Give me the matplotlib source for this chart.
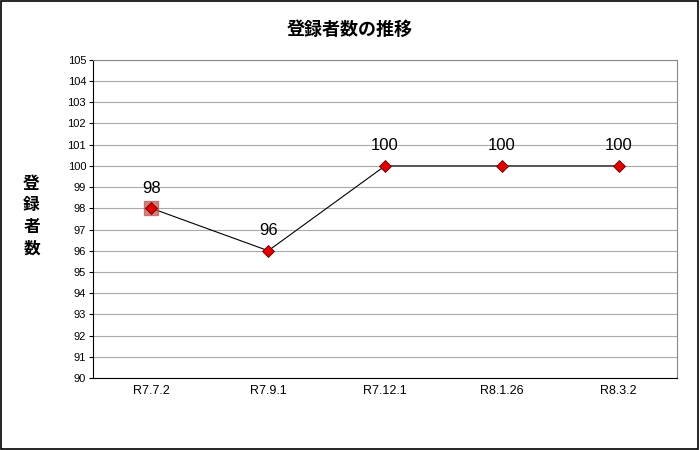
import matplotlib
matplotlib.use("Agg")
import matplotlib.pyplot as plt
from matplotlib.patches import Rectangle

plt.rcParams['font.family'] = ['Noto Sans CJK JP', 'DejaVu Sans']

dates = ["R7.7.2", "R7.9.1", "R7.12.1", "R8.1.26", "R8.3.2"]
counts = [98, 96, 100, 100, 100]
yticks = list(range(90, 106))

fig = plt.figure(figsize=(7, 4.5), dpi=100)
ax = fig.add_axes([0.133, 0.16, 0.834, 0.707])
x = list(range(len(dates)))
ax.plot(x, counts, color='black', lw=0.8, zorder=3)
ax.plot(x[0], counts[0], marker='s', ms=10, color='#c0504d', alpha=0.7, zorder=3)
ax.plot(x, counts, ls='none', marker='D', ms=6, mfc='#e00000', mec='#600000', mew=0.6, zorder=4)
for xi, v in zip(x, counts):
    ax.text(xi, v + 0.6, str(v), ha='center', va='bottom', fontsize=12, family='Liberation Sans')
ax.set_xlim(-0.5, len(dates) - 0.5)
ax.set_ylim(90, 105)
ax.set_yticks(yticks)
ax.set_yticklabels([str(t) for t in yticks], fontsize=8, family='Liberation Sans')
ax.set_xticks(x)
ax.set_xticklabels(dates, fontsize=9, family='Liberation Sans')
ax.tick_params(axis='y', length=3, pad=2)
ax.tick_params(axis='x', length=0, pad=5)
ax.grid(axis='y', color='#aaaaaa', lw=0.8)
ax.set_axisbelow(True)
for s in ['top', 'right']:
    ax.spines[s].set_color('#888888')
for s in ['left', 'bottom']:
    ax.spines[s].set_color('black')
fig.text(0.5, 0.935, "登録者数の推移", ha='center', va='center', fontsize=13, fontweight='bold')
fig.text(0.045, 0.52, "登\n録\n者\n数", ha='center', va='center', fontsize=12, linespacing=1.25, fontweight='bold')
fig.patches.append(Rectangle((0.002, 0.003), 0.995, 0.994, transform=fig.transFigure,
                             fill=False, ec='black', lw=1.2))
fig.savefig("out.png", dpi=100)
